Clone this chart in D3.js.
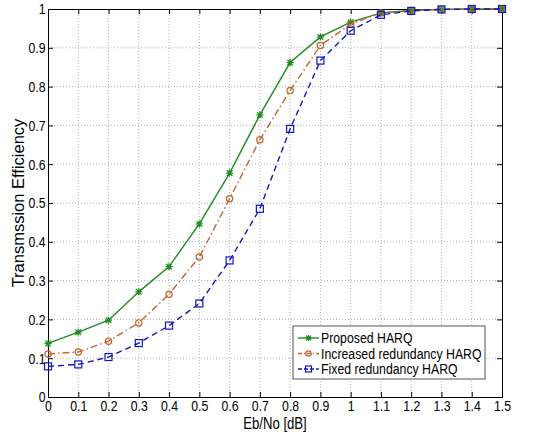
<!DOCTYPE html>
<html>
<head>
<meta charset="utf-8">
<script src="https://cdn.jsdelivr.net/npm/d3@7"></script>
<style>
  body { margin: 0; background: #fff; }
  svg { font-family: "Liberation Sans", Arial, sans-serif; }
</style>
</head>
<body>
<div id="chart"></div>
<script>
// Eb/No values and the three efficiency curves
let ebno = [0, 0.1, 0.2, 0.3, 0.4, 0.5, 0.6, 0.7, 0.8, 0.9, 1.0, 1.1, 1.2, 1.3, 1.4, 1.5];
let proposed = [0.138, 0.167, 0.198, 0.271, 0.336, 0.446, 0.577, 0.727, 0.862, 0.928, 0.966, 0.990, 0.996, 0.999, 1.0, 1.0];
let increased = [0.111, 0.116, 0.144, 0.191, 0.265, 0.361, 0.511, 0.663, 0.790, 0.906, 0.961, 0.990, 0.996, 0.999, 1.0, 1.0];
let fixed = [0.079, 0.084, 0.103, 0.139, 0.184, 0.241, 0.352, 0.485, 0.691, 0.867, 0.944, 0.985, 0.995, 0.999, 1.0, 1.0];
let xTicks = [0, 0.1, 0.2, 0.3, 0.4, 0.5, 0.6, 0.7, 0.8, 0.9, 1, 1.1, 1.2, 1.3, 1.4, 1.5];
let yTicks = [0, 0.1, 0.2, 0.3, 0.4, 0.5, 0.6, 0.7, 0.8, 0.9, 1];
let seriesNames = ["Proposed HARQ", "Increased redundancy HARQ", "Fixed redundancy HARQ"];

let width = 546, height = 432;
let margin = { top: 9, right: 44, bottom: 35, left: 48 };
let w = width - margin.left - margin.right;
let h = height - margin.top - margin.bottom;
let squeeze = "scale(0.82,1)"; // the source figure text is horizontally squeezed

let svg = d3.select("#chart").append("svg")
    .attr("width", width)
    .attr("height", height);

let g = svg.append("g")
    .attr("transform", "translate(" + margin.left + "," + margin.top + ")");

let xScale = d3.scaleLinear().domain([0, 1.5]).range([0, w]);
let yScale = d3.scaleLinear().domain([0, 1]).range([h, 0]);

// dotted grid
g.append("g").selectAll("line").data(xTicks.slice(1, -1)).enter().append("line")
    .attr("x1", d => xScale(d)).attr("x2", d => xScale(d))
    .attr("y1", 0).attr("y2", h)
    .attr("stroke", "#b0b0b0").attr("stroke-dasharray", "1,2");
g.append("g").selectAll("line").data(yTicks.slice(1, -1)).enter().append("line")
    .attr("y1", d => yScale(d)).attr("y2", d => yScale(d))
    .attr("x1", 0).attr("x2", w)
    .attr("stroke", "#b0b0b0").attr("stroke-dasharray", "1,2");

// axes with inward ticks (matlab style)
g.append("g")
    .attr("transform", "translate(0," + h + ")")
    .call(d3.axisBottom(xScale).tickValues(xTicks).tickSize(-5).tickPadding(3).tickFormat(d3.format("")));
g.append("g")
    .call(d3.axisLeft(yScale).tickValues(yTicks).tickSize(-5).tickPadding(3).tickFormat(d3.format("")));
g.append("g")
    .call(d3.axisTop(xScale).tickValues(xTicks).tickSize(-5).tickFormat(""));
g.append("g")
    .attr("transform", "translate(" + w + ",0)")
    .call(d3.axisRight(yScale).tickValues(yTicks).tickSize(-5).tickFormat(""));

g.selectAll(".domain").attr("stroke", "#000");
g.selectAll(".tick line").attr("stroke", "#000");
g.selectAll(".tick text").attr("font-size", 15).attr("fill", "#000")
    .attr("font-family", "Liberation Sans, Arial, sans-serif")
    .attr("transform", squeeze);

// axis labels
svg.append("text")
    .attr("transform", "translate(" + (margin.left + w / 2) + ",428.5) " + squeeze)
    .attr("text-anchor", "middle").attr("font-size", 16)
    .text("Eb/No [dB]");
svg.append("text")
    .attr("transform", "translate(24," + (margin.top + h / 2) + ") rotate(-90)")
    .attr("text-anchor", "middle").attr("font-size", 16.5)
    .text("Transmssion Efficiency");

let series = [
    { name: seriesNames[0], values: proposed, color: "#1e8c1e", dash: null, marker: "star" },
    { name: seriesNames[1], values: increased, color: "#c0662e", dash: "7,3,1.5,3", marker: "circle" },
    { name: seriesNames[2], values: fixed, color: "#1414c8", dash: "6,4", marker: "square" }
];

let line = d3.line()
    .x(d => xScale(d.x))
    .y(d => yScale(d.y));

function drawMarker(sel, type, color, r) {
    if (type === "circle") {
        sel.append("circle").attr("r", r * 0.9).attr("fill", "none").attr("stroke", color).attr("stroke-width", 1.2);
    } else if (type === "square") {
        sel.append("rect").attr("x", -r).attr("y", -r).attr("width", 2 * r).attr("height", 2 * r)
            .attr("fill", "none").attr("stroke", color).attr("stroke-width", 1.2);
    } else {
        let q = r * 0.8;
        sel.append("path").attr("d", "M" + (-r) + ",0H" + r + "M0," + (-r) + "V" + r +
                "M" + (-q) + "," + (-q) + "L" + q + "," + q + "M" + (-q) + "," + q + "L" + q + "," + (-q))
            .attr("stroke", color).attr("stroke-width", 1.3);
    }
}

series.forEach(function(s) {
    let data = ebno.map((x, i) => ({ x: x, y: s.values[i] }));
    g.append("path")
        .datum(data)
        .attr("d", line)
        .attr("fill", "none")
        .attr("stroke", s.color)
        .attr("stroke-width", 1.4)
        .attr("stroke-dasharray", s.dash);
    data.forEach(function(d) {
        let m = g.append("g").attr("transform", "translate(" + xScale(d.x) + "," + yScale(d.y) + ")");
        drawMarker(m, s.marker, s.color, 3.5);
    });
});

// legend
let lg = svg.append("g").attr("transform", "translate(293,326)");
lg.append("rect").attr("width", 192).attr("height", 53)
    .attr("fill", "#fff").attr("stroke", "#555");
series.forEach(function(s, i) {
    let y = 12 + i * 15.5;
    lg.append("line").attr("x1", 5).attr("x2", 26).attr("y1", y).attr("y2", y)
        .attr("stroke", s.color).attr("stroke-width", 1.4)
        .attr("stroke-dasharray", s.dash ? (s.marker === "circle" ? "4,2,1,2" : "4,2") : null);
    let m = lg.append("g").attr("transform", "translate(15.5," + y + ")");
    drawMarker(m, s.marker, s.color, 3);
    lg.append("text")
        .attr("transform", "translate(28," + (y + 5) + ") " + squeeze)
        .attr("font-size", 15).text(s.name);
});
</script>
</body>
</html>
